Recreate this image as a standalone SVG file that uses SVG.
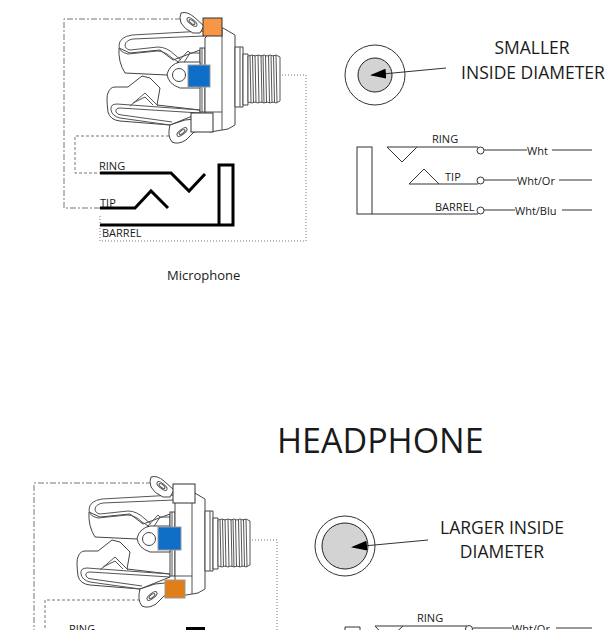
<svg xmlns="http://www.w3.org/2000/svg" width="615" height="630" viewBox="0 0 615 630">
<style>
text{font-family:"Open Sans","Liberation Sans",sans-serif;fill:#1a1a1a}
.o{fill:#fff;stroke:#444;stroke-width:1}
.s{fill:none;stroke:#555;stroke-width:1}
.d{fill:none;stroke:#777;stroke-width:1;stroke-dasharray:1 2}
.dd{fill:none;stroke:#777;stroke-width:1;stroke-dasharray:6 2 2 2}
.da{fill:none;stroke:#777;stroke-width:1;stroke-dasharray:3 2}
.t{stroke:#000;stroke-width:3;fill:none}
.l{stroke:#333;stroke-width:1;fill:none}
.th{stroke:#555;stroke-width:1;fill:none}
.h{fill:#d3d3d3;stroke:#222;stroke-width:1}
.c{fill:#fff;stroke:#333;stroke-width:1}
.sm{font-size:11px}
.big{font-size:17.500px}
</style>
<defs>
<marker id="a" markerWidth="16" markerHeight="10" refX="14" refY="5" orient="auto" markerUnits="userSpaceOnUse"><path d="M0 0L16 5L0 10Z" fill="#000"/></marker>
<g id="jack">
<path class="o" d="M119 48Q118 62 125 73L167 75L200 75V50L173 60L160 50L130 53Z"/>
<path class="s" d="M204 31L132 35Q119 37 119 46Q119 52 128 54L157 51Q165 51 172 58L180 63"/>
<path class="s" d="M204 36L133 39Q126 40 125 45Q125 49 130 50L158 47Q167 47 175 55L181 60"/>
<path class="s" d="M177 63L188 51L190 53L183 64M190 53L200 53"/>
<path class="o" d="M108 112Q106 96 108 93Q110 87 115 87H128L142 76L150 78L160 88L157 105L200 110V113L170 125L120 121Q110 120 108 112Z"/>
<path class="s" d="M200 110L117 104Q110 104 111 110Q112 116 120 118L170 125"/>
<path class="s" d="M200 113L120 108Q115 108 116 112Q117 115 122 115L172 122"/>
<path class="s" d="M130 106L145 93L158 106M133 103L145 97L153 105"/>
<path class="o" d="M181 13Q187 11 194 17L204 26L200 33L193 33Q184 29 181 23Q179 17 181 13Z"/>
<ellipse class="s" cx="192" cy="22" rx="6" ry="2.500" transform="rotate(38 192 22)"/>
<ellipse class="s" cx="192" cy="22" rx="3.500" ry="1.500" transform="rotate(38 192 22)"/>
<rect class="o" x="200" y="48" width="5" height="64"/>
<path class="s" d="M202 48V112"/>
<path class="o" d="M205 38L212 30L223 28L235 35V125L228 129L210 132L205 128Z"/>
<path class="s" d="M222 29V130M205 112L222 112"/>
<path class="o" d="M235 47H243V107H235Z"/>
<path class="s" d="M240 47V107"/>
<path class="o" d="M243 54H248V105H243Z"/>
<path fill="#fff" stroke="#555" d="M248 56L252 55L255 56L258 55L261 56L264 55L267 56L270 55L273 56L276 55L280 57V101L276 103L273 102L270 103L267 102L264 103L261 102L258 103L255 102L252 103L248 102Z"/>
<path class="th" d="M250 55L251 103M252.500 55L253.500 103M255 55L256 103M258 55L259 103M261 55L262 103M263 55L264 103M265.500 55L266.500 103M268.500 55L269.500 103M271 55L272 103M273.500 55L274.500 103M276 55L277 103"/>
<path class="o" d="M200 62H180Q170 64 167 74Q168 84 180 88H200Z"/>
<circle class="o" cx="179" cy="75" r="6.500"/>
<path class="o" d="M170 125L185 120L205 118V130L194 132L186 140Q178 145 172 142Q167 136 170 125Z"/>
<ellipse class="s" cx="182" cy="132" rx="6" ry="2.500" transform="rotate(-38 182 132)"/>
<ellipse class="s" cx="182" cy="132" rx="3.500" ry="1.500" transform="rotate(-38 182 132)"/>
</g>
</defs>

<g id="connectors">
<path class="dd" d="M181 19H64V208H100"/>
<path class="da" d="M169 136H75V173H100"/>
<path class="d" d="M210 75H306V241H100V215"/>
<path class="dd" d="M152 483H34V630"/>
<path class="da" d="M140 600H45V630"/>
<path class="d" d="M180 540H277V630"/>
</g>

<g id="mic-jack"><use href="#jack"/>
<rect x="203" y="18" width="19" height="18" fill="#f79646" stroke="#333"/>
<rect x="188" y="65" width="22" height="22" fill="#0f6fc6" stroke="#999"/>
<rect x="191" y="113" width="22" height="19" fill="#fff" stroke="#333"/>
</g>

<g id="mic-symbol">
<path class="t" d="M100 173H171L189 191L205 174"/>
<path class="t" d="M100 208H135L151 191L168 208"/>
<path class="t" d="M100 225H233V165H219V225"/>
<text class="sm" x="99" y="170">RING</text>
<text class="sm" x="100" y="207">TIP</text>
<text class="sm" x="102" y="237">BARREL</text>
</g>
<g id="mic-label"><text x="167" y="280" font-size="13px">Microphone</text></g>

<g id="mic-socket">
<circle class="c" cx="375" cy="75" r="30"/>
<circle class="h" cx="375" cy="75" r="17"/>
<line class="l" x1="446" y1="68" x2="372" y2="75" stroke="#000" marker-end="url(#a)"/>
<text class="big" x="532" y="54" text-anchor="middle">SMALLER</text>
<text class="big" x="533" y="79" text-anchor="middle">INSIDE DIAMETER</text>
</g>

<g id="mic-schematic">
<rect x="357" y="147" width="15" height="67" fill="#fff" stroke="#333"/>
<path class="l" d="M387 147H478M387 147L402 162L417 147"/>
<path class="l" d="M409 184H478M409 184L424 169L439 184"/>
<path class="l" d="M372 214H478"/>
<circle class="c" cx="480.500" cy="150.500" r="3.500"/>
<circle class="c" cx="480.500" cy="180.500" r="3.500"/>
<circle class="c" cx="480.500" cy="210.500" r="3.500"/>
<path class="l" d="M484 150H527M552 150H592M484 180H517M559 180H592M484 210H515M562 210H592"/>
<text class="sm" x="432" y="143">RING</text>
<text class="sm" x="445" y="181">TIP</text>
<text class="sm" x="435" y="211">BARREL</text>
<text class="sm" x="527" y="155">Wht</text>
<text class="sm" x="517" y="185">Wht/Or</text>
<text class="sm" x="515" y="215">Wht/Blu</text>
</g>

<g id="title"><text x="277" y="453" font-size="34px">HEADPHONE</text></g>

<g id="hp-jack"><use href="#jack" transform="translate(-30 464)"/>
<rect x="173" y="484" width="22" height="19" fill="#fff" stroke="#333"/>
<rect x="158" y="527" width="23" height="23" fill="#0f6fc6" stroke="#999"/>
<rect x="165" y="580" width="20" height="18" fill="#e07f17" stroke="#999"/>
</g>

<g id="hp-socket">
<circle class="c" cx="345" cy="546" r="30"/>
<circle class="h" cx="345" cy="546" r="23"/>
<line class="l" x1="428" y1="540" x2="353" y2="547" stroke="#000" marker-end="url(#a)"/>
<text class="big" x="502" y="534" text-anchor="middle">LARGER INSIDE</text>
<text class="big" x="502" y="558" text-anchor="middle">DIAMETER</text>
</g>

<g id="hp-schematic">
<path class="l" d="M345 635V627H360V635"/>
<path class="l" d="M375 626H467M375 626L388 640L403 626"/>
<circle class="c" cx="469" cy="629" r="3.500"/>
<path class="l" d="M473 628H512M556 628H592"/>
<text class="sm" x="417" y="622">RING</text>
<text class="sm" x="512" y="633">Wht/Or</text>
<text class="sm" x="69" y="633">RING</text>
<path d="M187 630V628H204V630" fill="#000" stroke="#000" stroke-width="2"/>
</g>
</svg>
